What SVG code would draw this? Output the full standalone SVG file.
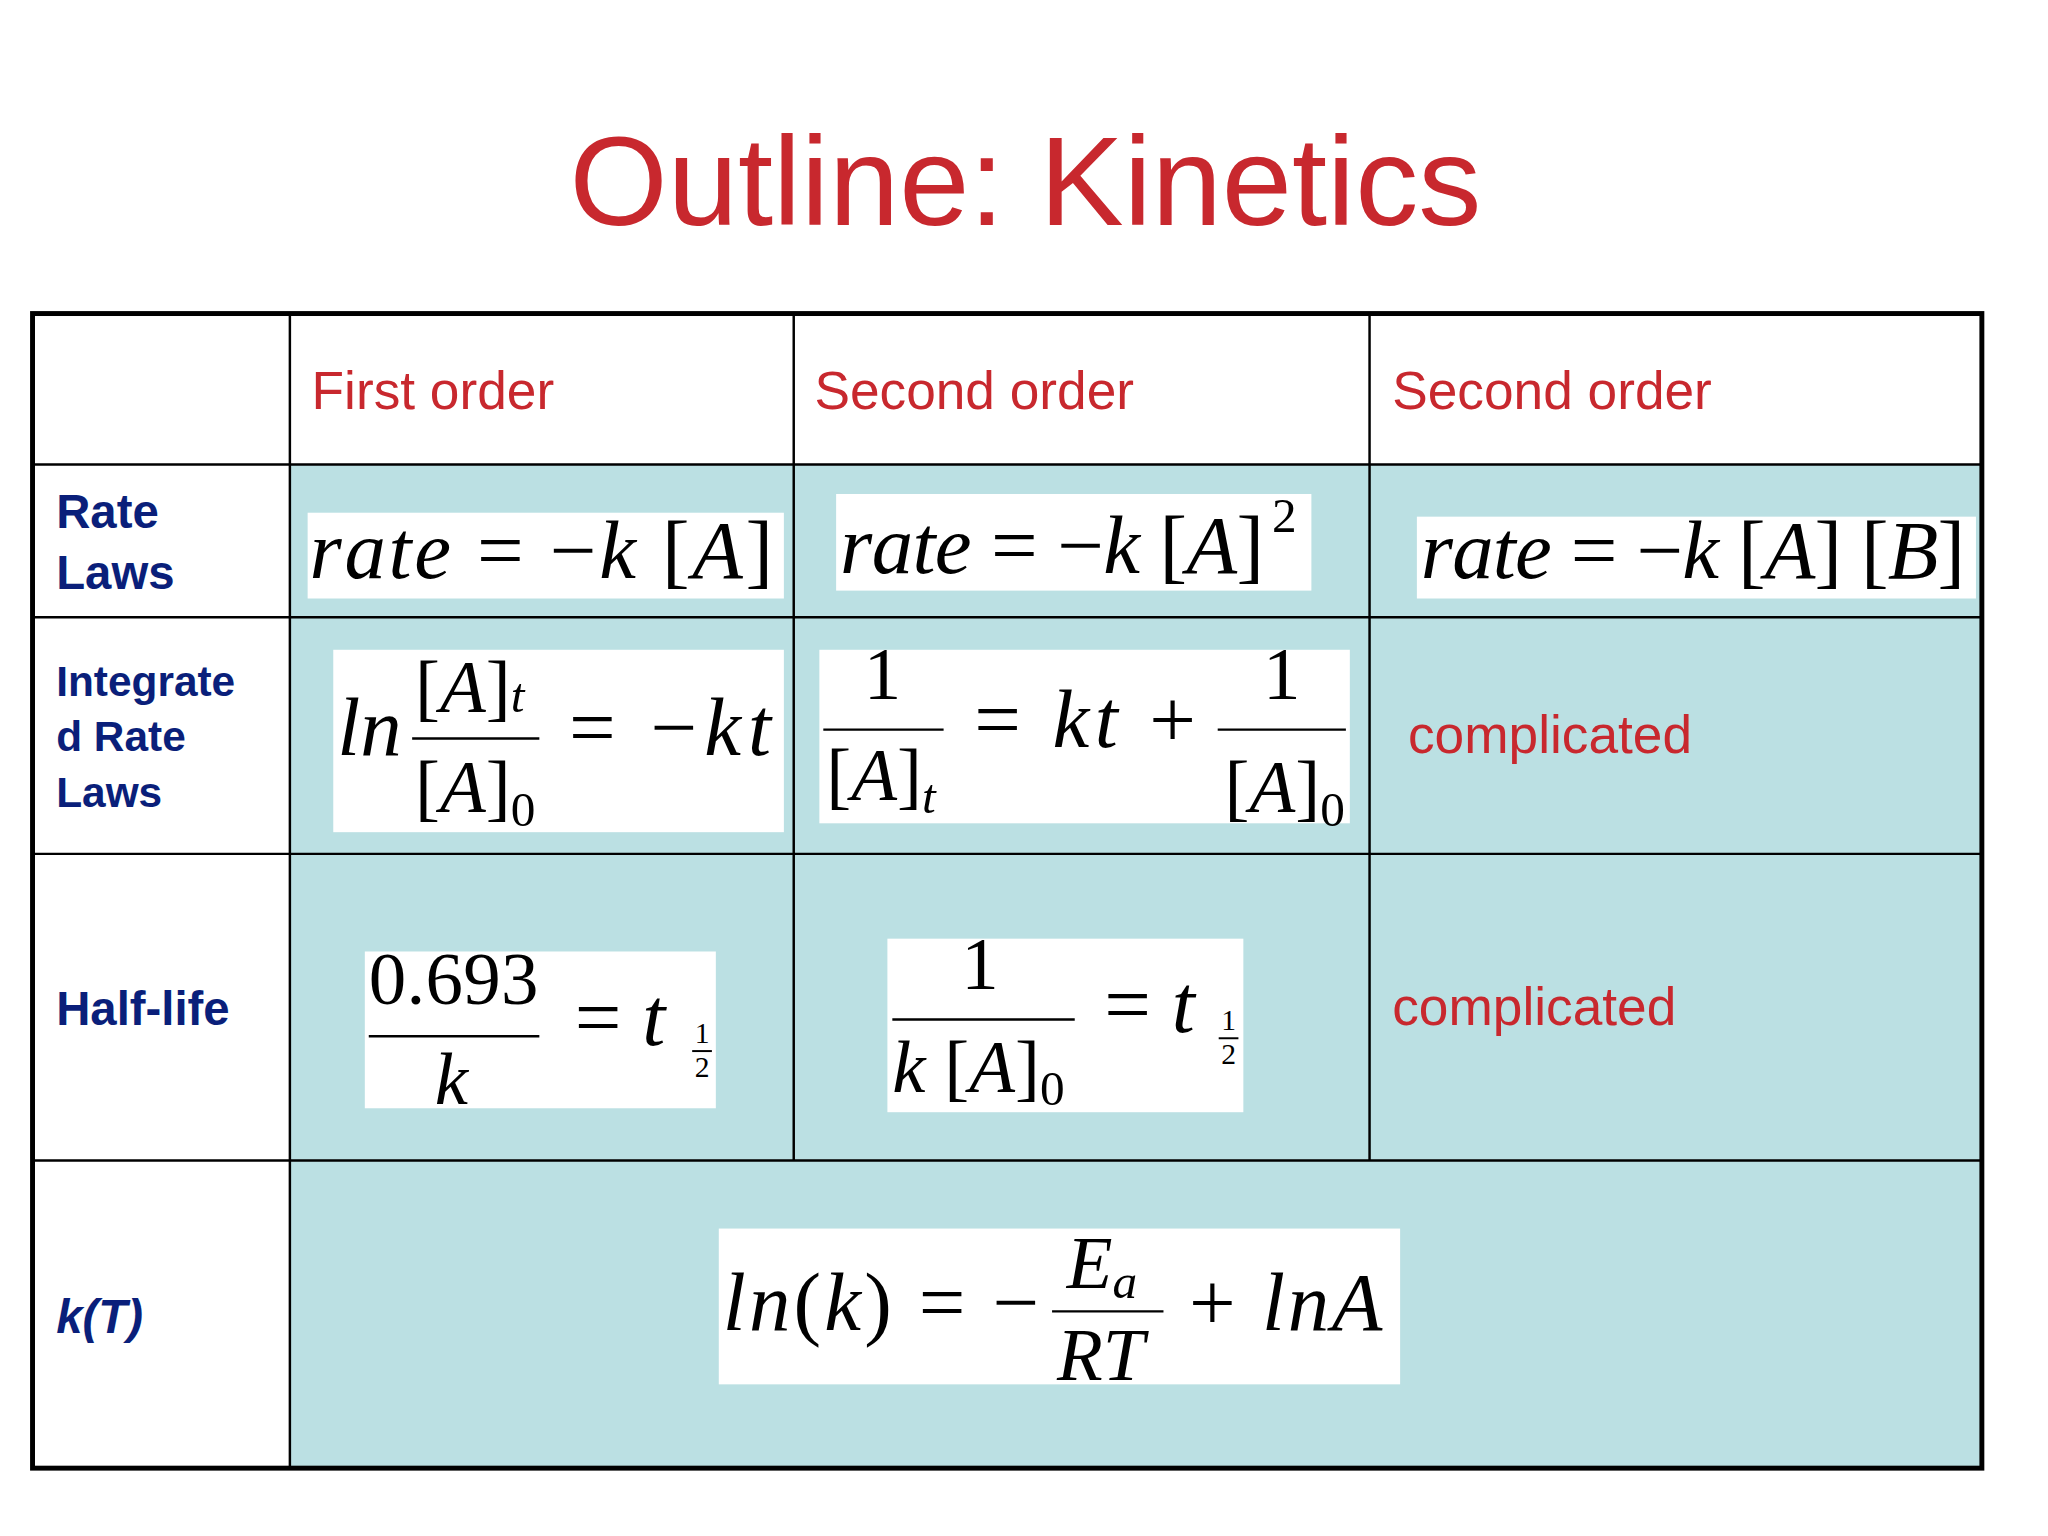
<svg xmlns="http://www.w3.org/2000/svg" width="2048" height="1536" viewBox="0 0 2048 1536">
<style>
.hd{font-family:"Liberation Sans",Arial,sans-serif;fill:#C8282E;font-size:54px}
.rl{font-family:"Liberation Sans",Arial,sans-serif;fill:#0A1F7A;font-weight:bold;font-size:48px}
.m{font-family:"Liberation Serif","Times New Roman",serif;font-size:84px;fill:#000}
.f{font-family:"Liberation Serif","Times New Roman",serif;font-size:76px;fill:#000}
.s{font-family:"Liberation Serif","Times New Roman",serif;font-size:30px;fill:#000}
.i{font-style:italic}
.wb{fill:#fff}
.ln{stroke:#000;stroke-width:2.5}
</style>
<rect width="2048" height="1536" fill="#fff"/>
<g transform="scale(0.986)">
<text x="1040" y="228" text-anchor="middle" font-family="Liberation Sans,Arial,sans-serif" font-size="128" fill="#C8282E">Outline: Kinetics</text>
<g id="table">
<rect x="294" y="471" width="1716" height="1018" fill="#BBE0E3"/>
<g stroke="#000" stroke-width="2.5">
<line x1="33" y1="471" x2="2010" y2="471"/>
<line x1="33" y1="626" x2="2010" y2="626"/>
<line x1="33" y1="866" x2="2010" y2="866"/>
<line x1="33" y1="1177" x2="2010" y2="1177"/>
<line x1="294" y1="318" x2="294" y2="1489"/>
<line x1="805" y1="318" x2="805" y2="1177"/>
<line x1="1389" y1="318" x2="1389" y2="1177"/>
</g>
<rect x="33" y="318" width="1977" height="1171" fill="none" stroke="#000" stroke-width="5"/>
</g>
<g id="headers">
<text class="hd" x="316" y="415">First order</text>
<text class="hd" x="826" y="415">Second order</text>
<text class="hd" x="1412" y="415">Second order</text>
</g>
<g id="rowlabels">
<text class="rl" x="57" y="535">Rate</text>
<text class="rl" x="57" y="597">Laws</text>
<text class="rl" x="57" y="706" style="font-size:43px">Integrate</text>
<text class="rl" x="57" y="762" style="font-size:43px">d Rate</text>
<text class="rl" x="57" y="818" style="font-size:43px">Laws</text>
<text class="rl" x="57" y="1040">Half-life</text>
<text class="rl" x="57" y="1352" font-style="italic">k(T)</text>
</g>
<g id="complicated">
<text class="hd" x="1428" y="764">complicated</text>
<text class="hd" x="1412" y="1040">complicated</text>
</g>
<g id="f1"><rect class="wb" x="312" y="520" width="483" height="87"/>
<text class="m" x="314" y="586" textLength="470"><tspan class="i">rate</tspan> = −<tspan class="i">k</tspan> [<tspan class="i">A</tspan>]</text></g>
<g id="f2"><rect class="wb" x="848" y="501" width="482" height="98"/>
<text class="m" x="852" y="581" textLength="430"><tspan class="i">rate</tspan> = −<tspan class="i">k</tspan> [<tspan class="i">A</tspan>]</text>
<text class="m" x="1290" y="540" style="font-size:50px">2</text></g>
<g id="f3"><rect class="wb" x="1437" y="524" width="567" height="83"/>
<text class="m" x="1441" y="586" textLength="552"><tspan class="i">rate</tspan> = −<tspan class="i">k</tspan> [<tspan class="i">A</tspan>] [<tspan class="i">B</tspan>]</text></g>
<g id="f4"><rect class="wb" x="338" y="659" width="457" height="185"/>
<text class="m i" x="342" y="766">ln</text>
<text class="f" x="421" y="722">[<tspan class="i">A</tspan>]<tspan class="i" font-size="50">t</tspan></text>
<line class="ln" x1="418" y1="749" x2="547" y2="749"/>
<text class="f" x="421" y="824">[<tspan class="i">A</tspan>]<tspan font-size="50" dy="14">0</tspan></text>
<text class="m" x="577" y="766" textLength="205">= −<tspan class="i">kt</tspan></text></g>
<g id="f5"><rect class="wb" x="831" y="659" width="538" height="176"/>
<text class="f" x="895" y="709" text-anchor="middle">1</text>
<line class="ln" x1="835" y1="740" x2="957" y2="740"/>
<text class="f" x="838" y="811">[<tspan class="i">A</tspan>]<tspan class="i" font-size="50" dy="14">t</tspan></text>
<text class="m" x="988" y="758" textLength="225">= <tspan class="i">kt</tspan> +</text>
<text class="f" x="1300" y="709" text-anchor="middle">1</text>
<line class="ln" x1="1235" y1="740" x2="1365" y2="740"/>
<text class="f" x="1242" y="824">[<tspan class="i">A</tspan>]<tspan font-size="50" dy="14">0</tspan></text></g>
<g id="f6"><rect class="wb" x="370" y="965" width="356" height="159"/>
<text class="f" x="374" y="1018" textLength="172">0.693</text>
<line class="ln" x1="374" y1="1051" x2="547" y2="1051"/>
<text class="f i" x="441" y="1120">k</text>
<text class="m" x="583" y="1060">= <tspan class="i">t</tspan></text>
<text class="s" x="712" y="1058" text-anchor="middle">1</text>
<line x1="702" y1="1066" x2="722" y2="1066" stroke="#000" stroke-width="2"/>
<text class="s" x="712" y="1092" text-anchor="middle">2</text></g>
<g id="f7"><rect class="wb" x="900" y="952" width="361" height="176"/>
<text class="f" x="994" y="1003" text-anchor="middle">1</text>
<line class="ln" x1="905" y1="1034" x2="1090" y2="1034"/>
<text class="f" x="905" y="1107"><tspan class="i">k</tspan> [<tspan class="i">A</tspan>]<tspan font-size="50" dy="14">0</tspan></text>
<text class="m" x="1120" y="1047">= <tspan class="i">t</tspan></text>
<text class="s" x="1246" y="1045" text-anchor="middle">1</text>
<line x1="1236" y1="1053" x2="1256" y2="1053" stroke="#000" stroke-width="2"/>
<text class="s" x="1246" y="1079" text-anchor="middle">2</text></g>
<g id="f8"><rect class="wb" x="729" y="1246" width="691" height="158"/>
<text class="m" x="733" y="1349" textLength="321"><tspan class="i">ln</tspan>(<tspan class="i">k</tspan>) = −</text>
<text class="f i" x="1082" y="1306">E<tspan font-size="50" dy="10">a</tspan></text>
<line class="ln" x1="1067" y1="1330" x2="1180" y2="1330"/>
<text class="f i" x="1072" y="1400">RT</text>
<text class="m" x="1206" y="1349" textLength="196">+ <tspan class="i">lnA</tspan></text></g>
</g>
</svg>
